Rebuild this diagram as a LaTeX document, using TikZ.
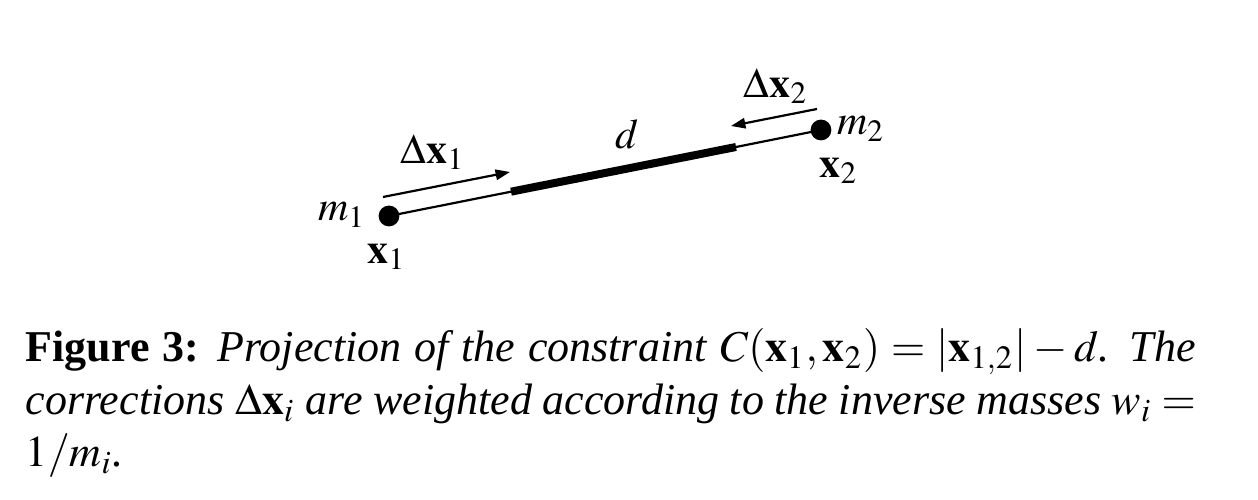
\documentclass[tikz,border=0pt]{standalone}
\usepackage{mathptmx}
\usepackage{fontspec}
\setmainfont{Liberation Serif}
\usetikzlibrary{arrows.meta}
\tikzset{
  mass/.style={circle,fill=black,inner sep=0pt,minimum size=5.2pt},
  lbl/.style={inner sep=0pt,font=\fontsize{10.5}{12}\selectfont},
  thinrod/.style={line width=0.55pt},
  thickrod/.style={line width=2pt},
  corr/.style={line width=0.55pt,-{Triangle[length=3.6pt,width=2.6pt]}},
  captext/.style={anchor=base west,inner sep=0pt,font=\fontsize{11}{13}\selectfont}
}
\begin{document}
\begin{tikzpicture}[x=0.25pt,y=-0.25pt]
\useasboundingbox (0,0) rectangle (1258,500);
% masses
\node[mass] (m1) at (389,216) {};
\node[mass] (m2) at (821,130) {};
\coordinate (ts) at (511,191.7);
\coordinate (te) at (736,147);
\draw[thinrod] (m1.center) -- (ts);
\draw[thickrod] (ts) -- (te);
\draw[thinrod] (te) -- (m2.center);
% correction arrows
\coordinate (a1s) at (383,197);
\coordinate (a1e) at (510,172);
\coordinate (a2s) at (817,109);
\coordinate (a2e) at (731,126);
\draw[corr] (a1s) -- (a1e);
\draw[corr] (a2s) -- (a2e);
% labels
\node[lbl] (lm1) at (342,215) {$m_1$};
\node[lbl] (lx1) at (387,257) {$\mathbf{x}_1$};
\node[lbl] (ldx1) at (433,152) {$\Delta\mathbf{x}_1$};
\node[lbl] (ld) at (627,134) {$d$};
\node[lbl] (ldx2) at (776,86) {$\Delta\mathbf{x}_2$};
\node[lbl] (lm2) at (861,129) {$m_2$};
\node[lbl] (lx2) at (839,171) {$\mathbf{x}_2$};
% caption
\node[captext] (cap1) at (25,362) {\makebox[292.5pt][s]{\textbf{Figure 3:} \textit{Projection of the constraint} $C(\mathbf{x}_1,\mathbf{x}_2)=|\mathbf{x}_{1,2}|-d$\textit{.} \textit{The}}};
\node[captext] (cap2) at (25,415) {\makebox[292.5pt][s]{\textit{corrections} $\Delta\mathbf{x}_i$ \textit{are weighted according to the inverse masses} $w_i=$}};
\node[captext] (cap3) at (25,467) {$1/m_i$\textit{.}};
\end{tikzpicture}
\end{document}
